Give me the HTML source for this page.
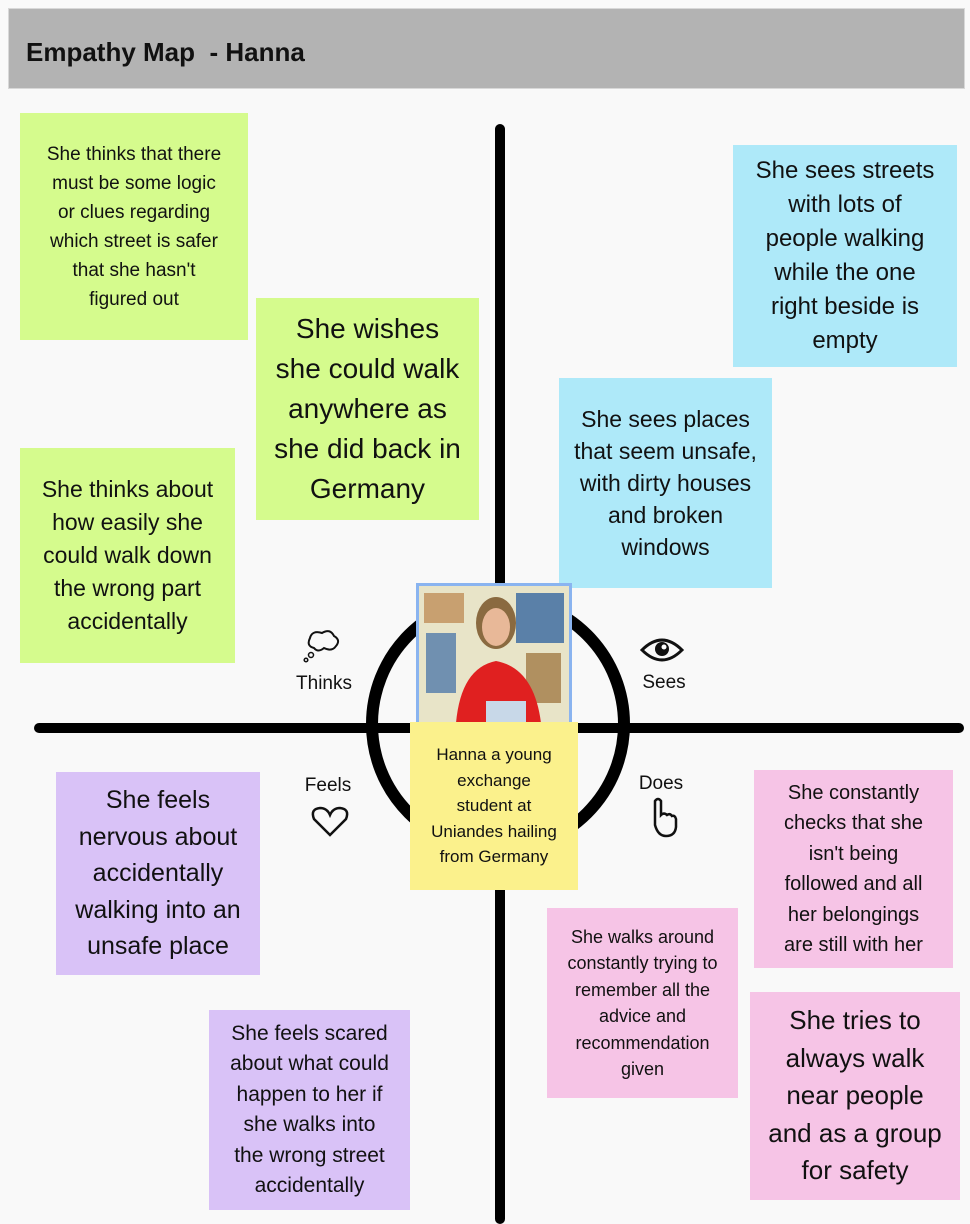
<!DOCTYPE html>
<html><head><meta charset="utf-8"><style>
body{margin:0;width:970px;height:1222px;background:#f9f9f9;position:relative;overflow:hidden;font-family:"Liberation Sans",sans-serif;color:#111}
.hd{position:absolute;left:8px;top:8px;width:957px;height:81px;background:#b3b3b3;border:1px solid #d8d8d8;box-sizing:border-box}
.hd span{position:absolute;left:17px;top:28px;font-weight:bold;font-size:26px}
.n{position:absolute;display:flex;align-items:center;justify-content:center;text-align:center;box-sizing:border-box;line-height:1.4;white-space:nowrap}
.g{background:#d5fb8d}.b{background:#aee9f9}.p{background:#d9c2f7}.k{background:#f6c4e6}.y{background:#fbf18c}
.l{position:absolute;font-size:19px;transform:translateX(-50%)}
.ln{position:absolute;background:#000;border-radius:5px}
</style></head><body>
<div class="hd"><span>Empathy Map&nbsp; - Hanna</span></div>
<div class="ln" style="left:495px;top:124px;width:10px;height:1100px"></div>
<div class="ln" style="left:34px;top:723px;width:930px;height:10px"></div>
<div style="position:absolute;left:366px;top:592px;width:240px;height:240px;border:12px solid #000;border-radius:50%"></div>

<div class="n g" style="left:20px;top:113px;width:228px;height:227px;font-size:19px;line-height:29px">She thinks that there<br>must be some logic<br>or clues regarding<br>which street is safer<br>that she hasn't<br>figured out</div>
<div class="n g" style="left:256px;top:298px;width:223px;height:222px;font-size:28px;line-height:40px">She wishes<br>she could walk<br>anywhere as<br>she did back in<br>Germany</div>
<div class="n g" style="left:20px;top:448px;width:215px;height:215px;font-size:23px;line-height:33px">She thinks about<br>how easily she<br>could walk down<br>the wrong part<br>accidentally</div>
<div class="n b" style="left:733px;top:145px;width:224px;height:222px;font-size:24px;line-height:34px">She sees streets<br>with lots of<br>people walking<br>while the one<br>right beside is<br>empty</div>
<div class="n b" style="left:559px;top:378px;width:213px;height:210px;font-size:23px;line-height:32px">She sees places<br>that seem unsafe,<br>with dirty houses<br>and broken<br>windows</div>
<div class="n p" style="left:56px;top:772px;width:204px;height:203px;font-size:25px;line-height:36.5px">She feels<br>nervous about<br>accidentally<br>walking into an<br>unsafe place</div>
<div class="n p" style="left:209px;top:1010px;width:201px;height:200px;font-size:21px;line-height:30.5px">She feels scared<br>about what could<br>happen to her if<br>she walks into<br>the wrong street<br>accidentally</div>
<div class="n k" style="left:754px;top:770px;width:199px;height:198px;font-size:20px;line-height:30.5px">She constantly<br>checks that she<br>isn't being<br>followed and all<br>her belongings<br>are still with her</div>
<div class="n k" style="left:547px;top:908px;width:191px;height:190px;font-size:18px;line-height:26.5px">She walks around<br>constantly trying to<br>remember all the<br>advice and<br>recommendation<br>given</div>
<div class="n k" style="left:750px;top:992px;width:210px;height:208px;font-size:26px;line-height:37.5px">She tries to<br>always walk<br>near people<br>and as a group<br>for safety</div>

<svg style="position:absolute;left:416px;top:583px" width="156" height="143">
<rect x="0" y="0" width="156" height="143" fill="#8ab4f0"/>
<rect x="3" y="3" width="150" height="137" fill="#e8e4c8"/>
<rect x="8" y="10" width="40" height="30" fill="#c8a070"/><rect x="100" y="10" width="48" height="50" fill="#5a80a8"/>
<rect x="10" y="50" width="30" height="60" fill="#7090b0"/><rect x="110" y="70" width="35" height="50" fill="#b09060"/>
<ellipse cx="80" cy="40" rx="20" ry="26" fill="#8a6a40"/>
<ellipse cx="80" cy="44" rx="14" ry="19" fill="#e8b898"/>
<path d="M40 140 Q45 85 80 78 Q118 85 125 140Z" fill="#e02020"/>
<rect x="70" y="118" width="40" height="22" fill="#c8d8e8"/>
</svg>
<div class="n y" style="left:410px;top:722px;width:168px;height:168px;font-size:17px;line-height:25.5px">Hanna a young<br>exchange<br>student at<br>Uniandes hailing<br>from Germany</div>

<div class="l" style="left:324px;top:673px">Thinks</div>
<div class="l" style="left:664px;top:672px">Sees</div>
<div class="l" style="left:328px;top:775px">Feels</div>
<div class="l" style="left:661px;top:773px">Does</div>
<svg style="position:absolute;left:300px;top:628px" width="42" height="36"><path d="M14 20 Q6 18 10 10 Q12 2 22 5 Q30 0 34 8 Q41 12 36 18 Q32 24 24 20 Q18 25 14 20Z" fill="none" stroke="#111" stroke-width="2"/><circle cx="11" cy="27" r="2.5" fill="none" stroke="#111" stroke-width="1.5"/><circle cx="6" cy="32" r="1.8" fill="none" stroke="#111" stroke-width="1.5"/></svg>
<svg style="position:absolute;left:640px;top:636px" width="44" height="28"><path d="M2 14 Q22 -6 42 14 Q22 34 2 14Z" fill="none" stroke="#111" stroke-width="3"/><circle cx="22" cy="13" r="7" fill="#111"/><circle cx="24" cy="11" r="2.5" fill="#fff"/></svg>
<svg style="position:absolute;left:310px;top:805px" width="40" height="32"><path d="M20 30 L4 14 Q0 4 10 3 Q17 3 20 10 Q23 3 30 3 Q40 4 36 14Z" fill="none" stroke="#111" stroke-width="2.5"/></svg>
<svg style="position:absolute;left:648px;top:797px" width="30" height="42"><path d="M7 28 L7 4 Q10 0 13 4 L13 18 Q16 15 19 18 Q22 16 24 19 Q27 18 28 22 L28 30 Q27 39 18 39 Q10 39 7 28Z" fill="none" stroke="#111" stroke-width="2.5"/></svg>
</body></html>
